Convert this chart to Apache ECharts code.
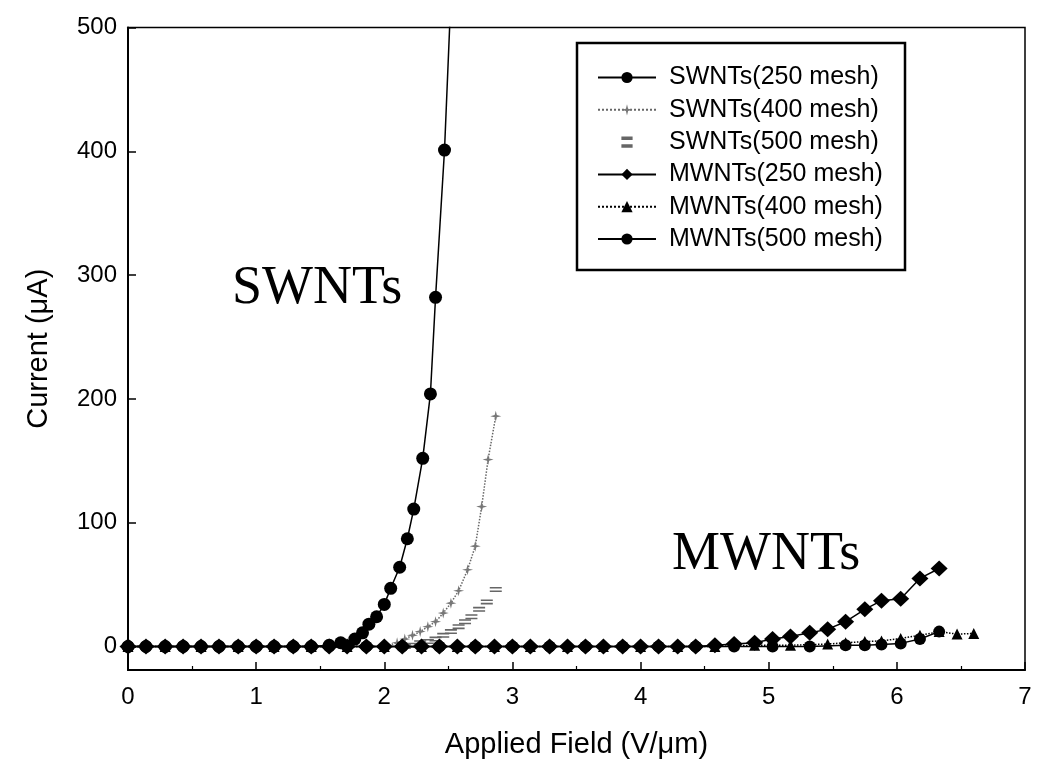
<!DOCTYPE html>
<html><head><meta charset="utf-8">
<script src="https://cdn.jsdelivr.net/npm/echarts@6/dist/echarts.min.js"></script>
<style>html,body{margin:0;padding:0;background:#fff}#c{width:1045px;height:776px}</style>
</head><body><div id="c"></div>
<script>
// ---------- data ----------
const seriesNames = ['SWNTs(250 mesh)','SWNTs(400 mesh)','SWNTs(500 mesh)','MWNTs(250 mesh)','MWNTs(400 mesh)','MWNTs(500 mesh)'];

const xTicks = [0,1,2,3,4,5,6,7];
const yTicks = [0,100,200,300,400,500];

const swnt250X = [0,0.14,0.29,0.43,0.57,0.71,0.86,1.0,1.14,1.29,1.43,1.57,1.66,1.77,1.83,1.88,1.94,2.0,2.05,2.12,2.18,2.23,2.30,2.36,2.40,2.47,2.53];
const swnt250Y = [0,0,0,0,0,0,0,0,0,0,0,1,3,6,11,18,24,34,47,64,87,111,152,204,282,401,550];

const swnt400X = [0,0.29,0.57,0.86,1.14,1.43,1.71,2.0,2.10,2.16,2.22,2.28,2.34,2.40,2.46,2.52,2.58,2.65,2.71,2.76,2.81,2.87];
const swnt400Y = [0,0,0,0,0,0,0,0,3,6,9,12,16,20,27,35,45,62,81,113,151,186];

const swnt500X = [2.16,2.22,2.28,2.34,2.40,2.46,2.52,2.58,2.63,2.68,2.74,2.80,2.87];
const swnt500Y = [0,1,3,4,6,9,12,16,20,24,30,36,46];

const mwnt250X = [0,0.14,0.29,0.43,0.57,0.71,0.86,1.0,1.14,1.29,1.43,1.57,1.71,1.86,2.0,2.14,2.29,2.43,2.57,2.71,2.86,3.0,3.14,3.29,3.43,3.57,3.71,3.86,4.0,4.14,4.29,4.43,4.58,4.73,4.89,5.03,5.17,5.32,5.46,5.60,5.75,5.88,6.03,6.18,6.33];
const mwnt250Y = [0,0,0,0,0,0,0,0,0,0,0,0,0,0,0,0,0,0,0,0,0,0,0,0,0,0,0,0,0,0,0,0,1,2,3,6,8,11,14,20,30,37,38.5,55,63];

const mwnt400X = [0,0.29,0.57,0.86,1.14,1.43,1.71,2.0,2.29,2.57,2.86,3.14,3.43,3.71,4.0,4.29,4.58,4.89,5.17,5.46,5.60,5.75,5.88,6.03,6.18,6.33,6.47,6.60];
const mwnt400Y = [0,0,0,0,0,0,0,0,0,0,0,0,0,0,0,0,0,1,1,2,3,4,4.5,6.5,9,12,10,10.5];

const mwnt500X = [0,0.14,0.43,0.71,1.0,1.29,1.57,1.86,2.14,2.43,2.71,3.0,3.29,3.57,3.86,4.14,4.43,4.73,5.03,5.32,5.60,5.75,5.88,6.03,6.18,6.33];
const mwnt500Y = [0,0,0,0,0,0,0,0,0,0,0,0,0,0,0,0,0,0,0,0,1,1,1.5,2.5,6,12];

// ---------- chart ----------
function pairs(xs, ys){ return xs.map((x,i)=>[x, ys[i]]); }
const FONT = '"Liberation Sans", Arial, sans-serif';
const SERIF = '54px "Liberation Serif", "Times New Roman", serif';
const chart = echarts.init(document.getElementById('c'), null, {renderer:'canvas'});

const starPath = 'path://M5,0L6,4L10,5L6,6L5,10L4,6L0,5L4,4Z';
const dashPath = 'path://M0,0H10V1.4H0Z M0,3H10V4.4H0Z';

chart.setOption({
  animation:false,
  backgroundColor:'#fff',
  grid:{left:128, top:27.5, width:897, height:642.5, show:true, borderColor:'#000', borderWidth:1.5, backgroundColor:'transparent'},
  xAxis:{
    type:'value', min:0, max:7, interval:1,
    name:'Applied Field (V/\u03bcm)', nameLocation:'middle', nameGap:60,
    nameTextStyle:{fontFamily:FONT, fontSize:29, color:'#000'},
    axisLine:{onZero:false, lineStyle:{color:'#000', width:2}},
    axisTick:{inside:true, length:8, lineStyle:{color:'#000', width:1.5}},
    minorTick:{show:true, splitNumber:2, length:4, lineStyle:{color:'#000', width:1.2}},
    axisLabel:{fontFamily:FONT, fontSize:24, color:'#000', margin:15,
      formatter:function(v){ return xTicks.indexOf(v)>=0 ? String(v) : ''; }},
    splitLine:{show:false}
  },
  yAxis:{
    type:'value', min:-19, max:500,
    name:'Current (\u03bcA)', nameLocation:'middle', nameGap:75,
    nameTextStyle:{fontFamily:FONT, fontSize:29, color:'#000'},
    axisLine:{onZero:false, lineStyle:{color:'#000', width:2}},
    axisTick:{inside:true, length:8, customValues:yTicks, lineStyle:{color:'#000', width:1.5}},
    axisLabel:{fontFamily:FONT, fontSize:24, color:'#000', margin:11, customValues:yTicks},
    splitLine:{show:false}
  },
  legend:{
    show:true, orient:'vertical', left:597, top:65, padding:0,
    itemWidth:58, itemHeight:14, itemGap:7.3,
    textStyle:{fontFamily:FONT, fontSize:25, lineHeight:20, color:'#000', padding:[0,0,0,8]},
    data:seriesNames
  },
  graphic:[
    {type:'rect', z:100, shape:{x:577, y:43, width:328, height:227}, style:{fill:'transparent', stroke:'#000', lineWidth:2.5}},
    {type:'text', z:100, left:232, top:262, style:{text:'SWNTs', font:SERIF, fill:'#000'}},
    {type:'text', z:100, left:672, top:528, style:{text:'MWNTs', font:SERIF, fill:'#000'}}
  ],
  series:[
    {name:seriesNames[3], type:'line', data:pairs(mwnt250X, mwnt250Y), symbol:'diamond', symbolSize:[17,16],
      itemStyle:{color:'#000'}, lineStyle:{color:'#000', width:1.5}, z:3},
    {name:seriesNames[4], type:'line', data:pairs(mwnt400X, mwnt400Y), symbol:'triangle', symbolSize:11,
      itemStyle:{color:'#000'}, lineStyle:{color:'#000', width:1.5, type:'dotted'}, z:3},
    {name:seriesNames[5], type:'line', data:pairs(mwnt500X, mwnt500Y), symbol:'circle', symbolSize:12,
      itemStyle:{color:'#000'}, lineStyle:{color:'#000', width:1.5}, z:3},
    {name:seriesNames[0], type:'line', data:pairs(swnt250X, swnt250Y), symbol:'circle', symbolSize:13,
      itemStyle:{color:'#000'}, lineStyle:{color:'#000', width:1.5}, z:4, clip:true},
    {name:seriesNames[1], type:'line', data:pairs(swnt400X, swnt400Y), symbol:starPath, symbolSize:11,
      itemStyle:{color:'#777'}, lineStyle:{color:'#666', width:1.5, type:'dotted'}, z:2},
    {name:seriesNames[2], type:'line', data:pairs(swnt500X, swnt500Y), symbol:dashPath, symbolSize:[12,5],
      itemStyle:{color:'#666'}, lineStyle:{opacity:0}, z:2}
  ]
});
</script>
</body></html>
